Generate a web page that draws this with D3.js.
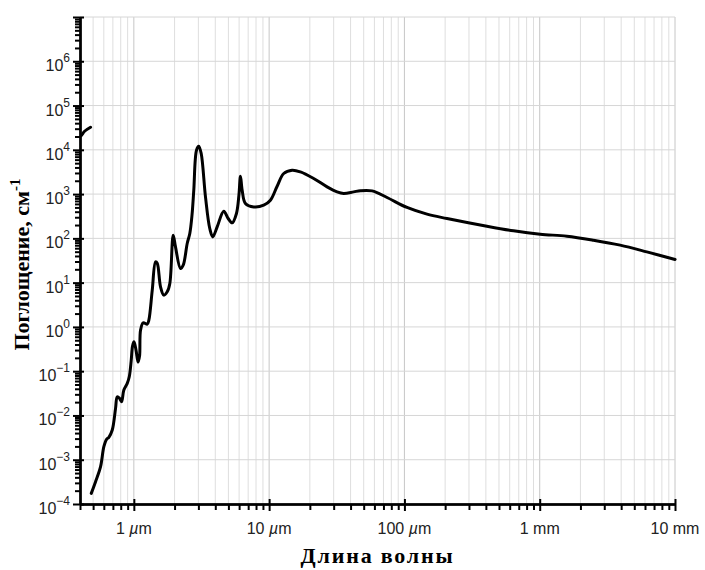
<!DOCTYPE html>
<html>
<head>
<meta charset="utf-8">
<script src="https://cdn.jsdelivr.net/npm/d3@7"></script>
<style>
  body { margin: 0; background: #fff; }
  svg { display: block; }
</style>
</head>
<body>
<svg id="chart" width="705" height="570"></svg>
<script>
// Absorption coefficient of liquid water vs. wavelength (µm, cm^-1)
const wavelengthUm = [
  0.4846, 0.5213, 0.5676, 0.6003, 0.6285, 0.6537, 0.6926, 0.7326, 0.7540, 0.7842,
  0.8111, 0.8437, 0.8938, 0.925, 0.9567, 0.978, 1.003, 1.038, 1.074, 1.102,
  1.121, 1.173, 1.256, 1.291, 1.368, 1.447, 1.489, 1.575, 1.665, 1.765,
  1.845, 1.954, 2.032, 2.213, 2.317, 2.48, 2.592, 2.691, 2.774, 2.905,
  3.02, 3.147, 3.385, 3.641, 3.832, 4.13, 4.62, 4.98, 5.33, 5.735,
  5.98, 6.14, 6.32, 6.68, 7.70, 9.12, 10.22, 11.46, 12.82, 14.79,
  17.03, 21.35, 26.82, 31.78, 35.56, 42.15, 47.24, 57.64, 74.38, 104.5,
  146.9, 206.4, 407, 640.6, 1008, 1588, 2496, 3931, 6190, 10016
];
const absorption = [
  1.74e-4, 3.19e-4, 6.95e-4, 1.97e-3, 2.89e-3, 3.2e-3, 4.68e-3, 0.01445, 0.0264, 0.0243,
  0.0204, 0.0374, 0.0531, 0.0748, 0.178, 0.369, 0.461, 0.299, 0.160, 0.219,
  0.848, 1.24, 1.157, 1.42, 6.77, 29.5, 27.5, 8.04, 5.22, 6.2,
  9.6, 118, 64.3, 20.9, 24.8, 76.7, 129, 334, 1225, 9800,
  12050, 8260, 865, 167, 108, 182, 411, 281, 224, 365,
  944, 2535, 1225, 614, 514, 561, 728, 1507, 2917, 3462,
  3170, 2249, 1455, 1122, 1032, 1122, 1194, 1181, 838, 499,
  352, 281, 188, 148, 124, 112, 91, 70.3, 49.6, 33.4
];
// short ultraviolet piece at the left edge
const uvWavelengthUm = [0.4, 0.411, 0.4325, 0.4788];
const uvAbsorption = [20000, 21400, 26300, 32400];

const xTickValues = [1, 10, 100, 1000, 10000];
const xTickLabels = ["1 µm", "10 µm", "100 µm", "1 mm", "10 mm"];
const yTickExponents = [-4, -3, -2, -1, 0, 1, 2, 3, 4, 5, 6, 7];
const yLabelExponents = [-4, -3, -2, -1, 0, 1, 2, 3, 4, 5, 6];

const svg = d3.select("#chart");
const x = d3.scaleLog().domain([0.4, 10000]).range([80, 675]);
const y = d3.scaleLog().domain([1e-4, 1e7]).range([504, 17]);

// minor positions (2..9 of each decade)
const xMinor = [];
for (let e = -1; e <= 3; e++) for (let k = 1; k <= 9; k++) {
  const v = k * Math.pow(10, e);
  if (v >= 0.4 && v <= 10000 && k !== 1) xMinor.push(v);
}
const yMajor = yTickExponents.map(e => Math.pow(10, e));
const yMinor = [];
for (let e = -4; e < 7; e++) for (let k = 2; k <= 9; k++) yMinor.push(k * Math.pow(10, e));

// grid
const grid = svg.append("g");
grid.selectAll("line.vmin").data(xMinor).join("line")
  .attr("x1", d => x(d)).attr("x2", d => x(d))
  .attr("y1", y(1e7)).attr("y2", y(1e-4))
  .attr("stroke", "#dedede").attr("stroke-width", 1);
grid.selectAll("line.vmaj").data(xTickValues).join("line")
  .attr("x1", d => x(d)).attr("x2", d => x(d))
  .attr("y1", y(1e7)).attr("y2", y(1e-4))
  .attr("stroke", "#c6c6c6").attr("stroke-width", 1);
grid.selectAll("line.h").data(yMajor).join("line")
  .attr("x1", x(0.4)).attr("x2", x(10000))
  .attr("y1", d => y(d)).attr("y2", d => y(d))
  .attr("stroke", "#d6d6d6").attr("stroke-width", 1);

// curve
svg.append("clipPath").attr("id", "plot")
  .append("rect").attr("x", 81).attr("y", 15).attr("width", 596).attr("height", 489);
const line = d3.line()
  .x(d => x(d[0])).y(d => y(d[1]))
  .curve(d3.curveCatmullRom.alpha(0.5));
const mainData = wavelengthUm.map((w, i) => [w, absorption[i]]);
const uvData = uvWavelengthUm.map((w, i) => [w, uvAbsorption[i]]);
const curves = svg.append("g").attr("clip-path", "url(#plot)");
[mainData, uvData].forEach(data => {
  curves.append("path").datum(data)
    .attr("d", line)
    .attr("fill", "none").attr("stroke", "#000")
    .attr("stroke-width", 3).attr("stroke-linejoin", "round").attr("stroke-linecap", "round");
});

// axes
function styleAxis(g) {
  g.selectAll("path.domain").attr("stroke", "#000").attr("stroke-width", 2);
  g.selectAll(".tick line").attr("stroke", "#000").attr("stroke-width", 2);
  g.selectAll(".tick text").remove();
}
const xAxisG = svg.append("g").attr("transform", `translate(0,${y(1e-4)})`);
xAxisG.append("g").call(d3.axisBottom(x).tickValues(xMinor).tickSize(6).tickSizeOuter(0).tickFormat("")).call(styleAxis);
xAxisG.append("g").call(d3.axisBottom(x).tickValues(xTickValues).tickSize(7).tickSizeOuter(0).tickFormat("")).call(styleAxis);
xAxisG.append("g").call(d3.axisTop(x).tickValues(xTickValues).tickSize(5).tickSizeOuter(0).tickFormat("")).call(styleAxis);

const yAxisG = svg.append("g").attr("transform", `translate(${x(0.4)},0)`);
yAxisG.append("g").call(d3.axisLeft(y).tickValues(yMinor).tickSize(5).tickSizeOuter(0).tickFormat("")).call(styleAxis);
yAxisG.append("g").call(d3.axisLeft(y).tickValues(yMajor).tickSize(7).tickSizeOuter(0).tickFormat("")).call(styleAxis);
yAxisG.append("g").call(d3.axisRight(y).tickValues(yMajor).tickSize(4).tickSizeOuter(0).tickFormat("")).call(styleAxis);

// x tick labels
svg.append("g").selectAll("text").data(xTickValues).join("text")
  .attr("x", d => x(d)).attr("y", 534)
  .attr("text-anchor", "middle")
  .attr("font-family", "'Liberation Sans', Arial, sans-serif")
  .attr("font-size", 16).attr("fill", "#222")
  .each(function(d, i) {
    const parts = xTickLabels[i].split("µ");
    const t = d3.select(this);
    t.append("tspan").text(parts[0]);
    if (parts.length > 1) {
      t.append("tspan").attr("font-style", "italic").text("µ");
      t.append("tspan").text(parts[1]);
    }
  });

// y tick labels: 10 with superscript exponent
svg.append("g").selectAll("text").data(yLabelExponents).join("text")
  .attr("x", 70).attr("y", d => y(Math.pow(10, d)) + 10)
  .attr("text-anchor", "end")
  .attr("font-family", "'Liberation Sans', Arial, sans-serif")
  .attr("font-size", 16).attr("fill", "#222")
  .each(function(d) {
    const t = d3.select(this);
    t.append("tspan").text("10");
    t.append("tspan").attr("font-size", 12).attr("dy", -9)
      .text(d < 0 ? "\u2212" + Math.abs(d) : String(d));
  });

// axis titles
svg.append("text")
  .attr("x", (x(0.4) + x(10000)) / 2).attr("y", 563)
  .attr("text-anchor", "middle")
  .attr("font-family", "'Liberation Serif', 'Times New Roman', serif")
  .attr("font-weight", "bold").attr("font-size", 22)
  .attr("letter-spacing", 1.8)
  .text("Длина волны");

const yTitle = svg.append("text")
  .attr("transform", `translate(29,${(y(1e-4) + y(1e7)) / 2 + 4}) rotate(-90)`)
  .attr("text-anchor", "middle")
  .attr("font-family", "'Liberation Serif', 'Times New Roman', serif")
  .attr("font-weight", "bold").attr("font-size", 22);
yTitle.append("tspan").text("Поглощение, см");
yTitle.append("tspan").attr("font-size", 15).attr("dy", -9).text("-1");
</script>
</body>
</html>
